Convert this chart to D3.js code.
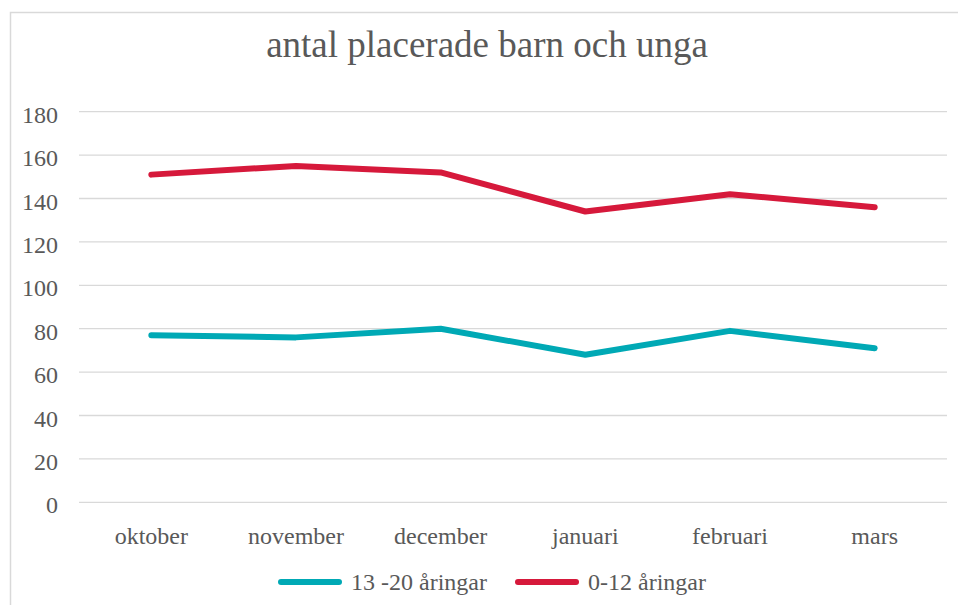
<!DOCTYPE html>
<html>
<head>
<meta charset="utf-8">
<script src="https://cdn.jsdelivr.net/npm/d3@7"></script>
<style>
  body { margin: 0; background: #fff; }
  svg { display: block; }
</style>
</head>
<body>
<svg id="chart" width="958" height="605"></svg>
<script>
const months = ["oktober", "november", "december", "januari", "februari", "mars"];
const teens = [77, 76, 80, 68, 79, 71];      // 13 -20 åringar
const kids = [151, 155, 152, 134, 142, 136]; // 0-12 åringar
const yTicks = [0, 20, 40, 60, 80, 100, 120, 140, 160, 180];

const series = [
  { name: "13 -20 åringar", values: teens, color: "#00a9b5" },
  { name: "0-12 åringar", values: kids, color: "#d6193b" }
];

const svg = d3.select("#chart");
const textColor = "#595959";
const font = "Liberation Serif";

// chart border (cut off at right and bottom)
svg.append("rect")
  .attr("x", 10.5).attr("y", 12.5)
  .attr("width", 960).attr("height", 610)
  .attr("fill", "none")
  .attr("stroke", "#d9d9d9")
  .attr("stroke-width", 1.5);

svg.append("text")
  .attr("x", 487).attr("y", 57)
  .attr("text-anchor", "middle")
  .attr("font-family", font)
  .attr("font-size", 37)
  .attr("fill", textColor)
  .text("antal placerade barn och unga");

const plotLeft = 79, plotRight = 947, plotTop = 111.7, plotBottom = 502.3;

const x = d3.scaleBand().domain(months).range([plotLeft, plotRight]);
const y = d3.scaleLinear().domain([0, 180]).range([plotBottom, plotTop]);

// gridlines
svg.append("g")
  .selectAll("line")
  .data(yTicks)
  .enter()
  .append("line")
  .attr("x1", plotLeft).attr("x2", plotRight)
  .attr("y1", d => y(d)).attr("y2", d => y(d))
  .attr("stroke", "#d9d9d9")
  .attr("stroke-width", 1.3);

// y axis labels
svg.append("g")
  .selectAll("text")
  .data(yTicks)
  .enter()
  .append("text")
  .attr("x", 58)
  .attr("y", d => y(d) + 11)
  .attr("text-anchor", "end")
  .attr("font-family", font)
  .attr("font-size", 24)
  .attr("fill", textColor)
  .text(d => d);

// x axis labels
svg.append("g")
  .selectAll("text")
  .data(months)
  .enter()
  .append("text")
  .attr("x", d => x(d) + x.bandwidth() / 2)
  .attr("y", 544)
  .attr("text-anchor", "middle")
  .attr("font-family", font)
  .attr("font-size", 24)
  .attr("fill", textColor)
  .text(d => d);

const line = d3.line()
  .x((d, i) => x(months[i]) + x.bandwidth() / 2)
  .y(d => y(d));

svg.append("g")
  .selectAll("path")
  .data(series)
  .enter()
  .append("path")
  .attr("d", d => line(d.values))
  .attr("fill", "none")
  .attr("stroke", d => d.color)
  .attr("stroke-width", 6)
  .attr("stroke-linejoin", "round")
  .attr("stroke-linecap", "round");

// legend
const legendX = [278, 515];
const leg = svg.append("g")
  .selectAll("g")
  .data(series)
  .enter()
  .append("g")
  .attr("transform", (d, i) => `translate(${legendX[i]},582)`);

leg.append("line")
  .attr("x1", 3).attr("x2", 61)
  .attr("stroke", d => d.color)
  .attr("stroke-width", 6)
  .attr("stroke-linecap", "round");

leg.append("text")
  .attr("x", 73).attr("y", 8)
  .attr("font-family", font)
  .attr("font-size", 24)
  .attr("fill", textColor)
  .text(d => d.name);
</script>
</body>
</html>
